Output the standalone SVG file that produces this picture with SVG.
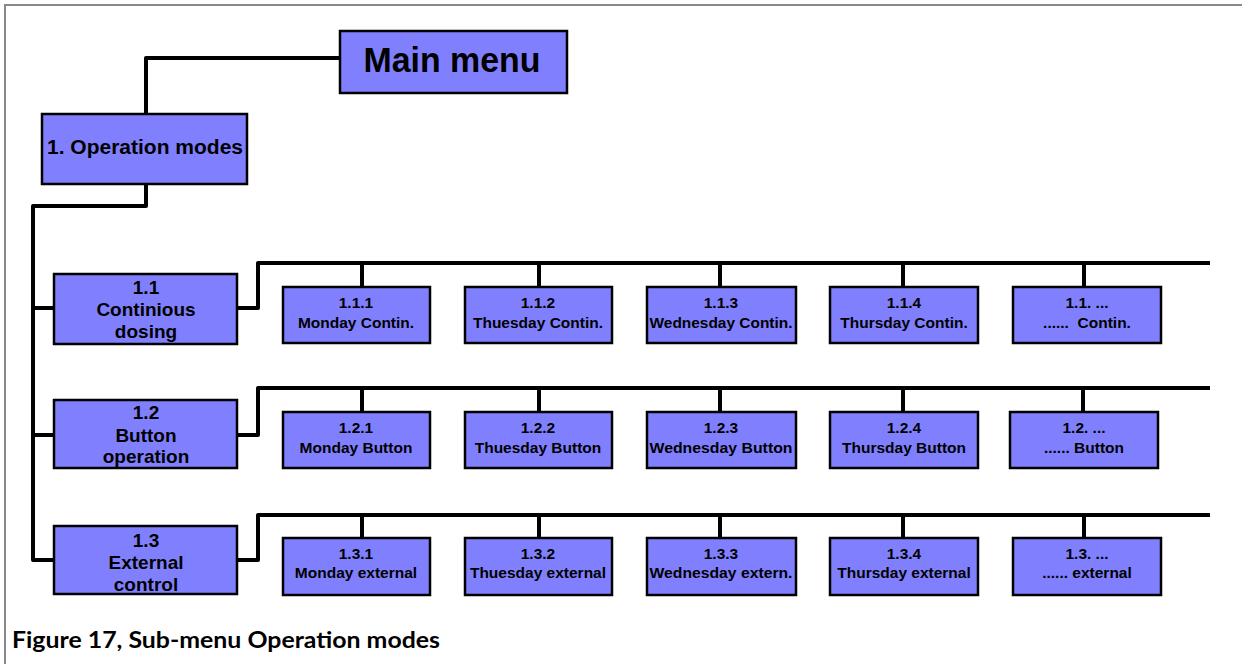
<svg xmlns="http://www.w3.org/2000/svg" width="1242" height="664" viewBox="0 0 1242 664">
<style>
.box{fill:#8080FF;stroke:#000;stroke-width:2.5}
.t{font-family:'Liberation Sans',Arial,Helvetica,sans-serif;font-weight:bold;fill:#000;text-anchor:middle}
.s{font-size:15.5px}
.p{font-size:19px}
.ln{fill:none;stroke:#000;stroke-width:4;stroke-linejoin:round}
.frame{fill:none;stroke:#888;stroke-width:2}
</style>
<rect width="1242" height="664" fill="#fff"/>
<path class="frame" d="M5,664 V5 H1242"/>
<g id="connectors">
<path class="ln" d="M340,58 H146 V115"/>
<path class="ln" d="M146,184 V206 H33 V560 H54"/>
<path class="ln" d="M33,308 H54"/>
<path class="ln" d="M33,435 H54"/>
<path class="ln" d="M237,308 H258 V263 H1210"/>
<path class="ln" d="M237,435 H258 V388 H1210"/>
<path class="ln" d="M237,560 H258 V515 H1210"/>
<path class="ln" d="M362,263 V287 M539,263 V287 M720,263 V287 M903,263 V287 M1084,263 V287"/>
<path class="ln" d="M362,388 V412 M539,388 V412 M720,388 V412 M903,388 V412 M1083,388 V412"/>
<path class="ln" d="M362,515 V538 M539,515 V538 M720,515 V538 M903,515 V538 M1084,515 V538"/>
</g>
<g id="main-menu">
<rect class="box" x="340" y="31" width="227" height="62"/>
<text class="t" x="452" y="72" font-size="35" textLength="177" lengthAdjust="spacingAndGlyphs">Main menu</text>
</g>
<g id="op-modes">
<rect class="box" x="42" y="114" width="205" height="70"/>
<text class="t" x="145" y="154" font-size="20" textLength="196" lengthAdjust="spacingAndGlyphs">1. Operation modes</text>
</g>
<g id="n1-1">
<rect class="box" x="54" y="274" width="183" height="70"/>
<text class="t p" x="146" y="294">1.1</text>
<text class="t p" x="146" y="316">Continious</text>
<text class="t p" x="146" y="338">dosing</text>
</g>
<g id="n1-2">
<rect class="box" x="54" y="400" width="183" height="68"/>
<text class="t p" x="146" y="419">1.2</text>
<text class="t p" x="146" y="442">Button</text>
<text class="t p" x="146" y="463">operation</text>
</g>
<g id="n1-3">
<rect class="box" x="54" y="526" width="183" height="68"/>
<text class="t p" x="146" y="547">1.3</text>
<text class="t p" x="146" y="569">External</text>
<text class="t p" x="146" y="591">control</text>
</g>
<g id="n1-1-1"><rect class="box" x="283" y="287" width="147" height="56"/><text class="t s" x="356" y="308">1.1.1</text><text class="t s" x="356" y="328">Monday Contin.</text></g>
<g id="n1-1-2"><rect class="box" x="465" y="287" width="147" height="56"/><text class="t s" x="538" y="308">1.1.2</text><text class="t s" x="538" y="328">Thuesday Contin.</text></g>
<g id="n1-1-3"><rect class="box" x="647" y="287" width="149" height="56"/><text class="t s" x="721" y="308">1.1.3</text><text class="t s" x="721" y="328" textLength="143" lengthAdjust="spacingAndGlyphs">Wednesday Contin.</text></g>
<g id="n1-1-4"><rect class="box" x="830" y="287" width="148" height="56"/><text class="t s" x="904" y="308">1.1.4</text><text class="t s" x="904" y="328">Thursday Contin.</text></g>
<g id="n1-1-5"><rect class="box" x="1013" y="287" width="148" height="56"/><text class="t s" x="1087" y="308">1.1. ...</text><text class="t s" x="1087" y="328" xml:space="preserve">......  Contin.</text></g>
<g id="n1-2-1"><rect class="box" x="283" y="412" width="147" height="56"/><text class="t s" x="356" y="433">1.2.1</text><text class="t s" x="356" y="453">Monday Button</text></g>
<g id="n1-2-2"><rect class="box" x="465" y="412" width="147" height="56"/><text class="t s" x="538" y="433">1.2.2</text><text class="t s" x="538" y="453">Thuesday Button</text></g>
<g id="n1-2-3"><rect class="box" x="647" y="412" width="149" height="56"/><text class="t s" x="721" y="433">1.2.3</text><text class="t s" x="721" y="453" textLength="143" lengthAdjust="spacingAndGlyphs">Wednesday Button</text></g>
<g id="n1-2-4"><rect class="box" x="830" y="412" width="148" height="56"/><text class="t s" x="904" y="433">1.2.4</text><text class="t s" x="904" y="453">Thursday Button</text></g>
<g id="n1-2-5"><rect class="box" x="1010" y="412" width="148" height="56"/><text class="t s" x="1084" y="433">1.2. ...</text><text class="t s" x="1084" y="453">...... Button</text></g>
<g id="n1-3-1"><rect class="box" x="283" y="538" width="147" height="57"/><text class="t s" x="356" y="559">1.3.1</text><text class="t s" x="356" y="578">Monday external</text></g>
<g id="n1-3-2"><rect class="box" x="465" y="538" width="147" height="57"/><text class="t s" x="538" y="559">1.3.2</text><text class="t s" x="538" y="578">Thuesday external</text></g>
<g id="n1-3-3"><rect class="box" x="647" y="538" width="149" height="57"/><text class="t s" x="721" y="559">1.3.3</text><text class="t s" x="721" y="578" textLength="143" lengthAdjust="spacingAndGlyphs">Wednesday extern.</text></g>
<g id="n1-3-4"><rect class="box" x="830" y="538" width="148" height="57"/><text class="t s" x="904" y="559">1.3.4</text><text class="t s" x="904" y="578">Thursday external</text></g>
<g id="n1-3-5"><rect class="box" x="1013" y="538" width="148" height="57"/><text class="t s" x="1087" y="559">1.3. ...</text><text class="t s" x="1087" y="578">...... external</text></g>
<text x="12" y="648" font-family="Lato,'Open Sans',sans-serif" font-weight="bold" font-size="22" textLength="428" lengthAdjust="spacingAndGlyphs" fill="#000">Figure 17, Sub-menu Operation modes</text>
</svg>
